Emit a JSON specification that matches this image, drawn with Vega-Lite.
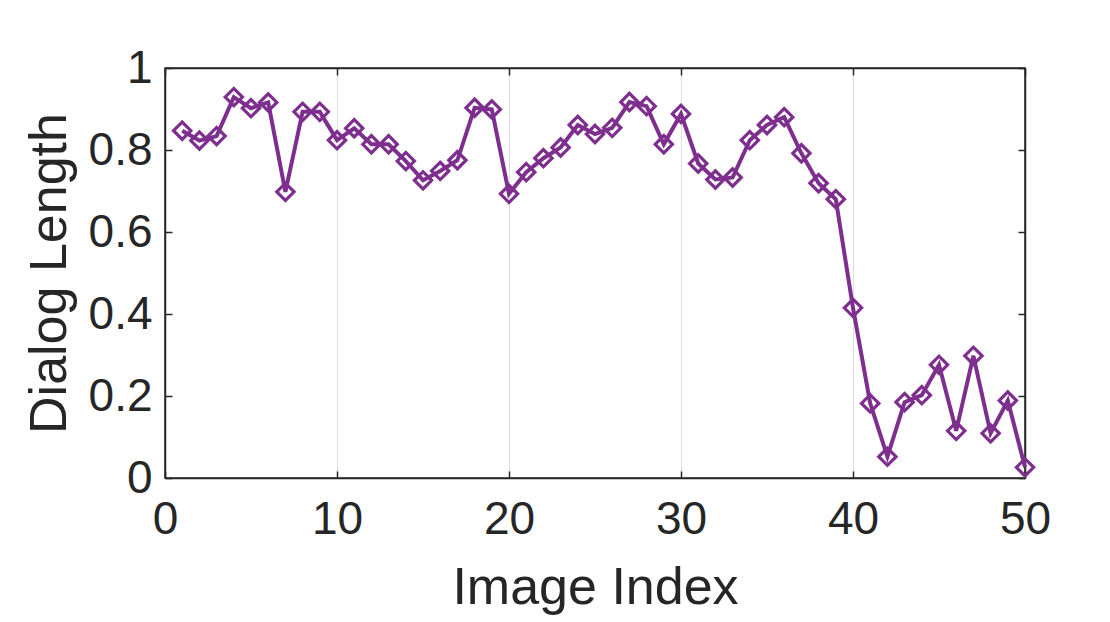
{
  "$schema": "https://vega.github.io/schema/vega-lite/v6.json",
  "width": 860,
  "height": 410,
  "autosize": {"type": "none"},
  "padding": {"left": 165, "top": 68, "right": 85, "bottom": 144},
  "background": "white",
  "config": {
    "font": "Liberation Sans",
    "view": {"stroke": "#262626", "strokeWidth": 1.5},
    "axis": {
      "domainColor": "#262626",
      "domainWidth": 1.5,
      "tickColor": "#262626",
      "tickWidth": 1.5,
      "labelColor": "#262626",
      "titleColor": "#262626",
      "labelFont": "Liberation Sans",
      "titleFont": "Liberation Sans",
      "labelFontSize": 46,
      "titleFontSize": 52,
      "titleFontWeight": "normal",
      "labelFlush": false
    }
  },
  "data": {
    "values": [
      {"index": 1, "length": 0.847},
      {"index": 2, "length": 0.823},
      {"index": 3, "length": 0.834},
      {"index": 4, "length": 0.929},
      {"index": 5, "length": 0.902},
      {"index": 6, "length": 0.916},
      {"index": 7, "length": 0.698},
      {"index": 8, "length": 0.893},
      {"index": 9, "length": 0.893},
      {"index": 10, "length": 0.824},
      {"index": 11, "length": 0.853},
      {"index": 12, "length": 0.814},
      {"index": 13, "length": 0.814},
      {"index": 14, "length": 0.773},
      {"index": 15, "length": 0.726},
      {"index": 16, "length": 0.749},
      {"index": 17, "length": 0.775},
      {"index": 18, "length": 0.903},
      {"index": 19, "length": 0.899},
      {"index": 20, "length": 0.693},
      {"index": 21, "length": 0.746},
      {"index": 22, "length": 0.780},
      {"index": 23, "length": 0.806},
      {"index": 24, "length": 0.861},
      {"index": 25, "length": 0.839},
      {"index": 26, "length": 0.854},
      {"index": 27, "length": 0.917},
      {"index": 28, "length": 0.907},
      {"index": 29, "length": 0.814},
      {"index": 30, "length": 0.888},
      {"index": 31, "length": 0.767},
      {"index": 32, "length": 0.728},
      {"index": 33, "length": 0.733},
      {"index": 34, "length": 0.824},
      {"index": 35, "length": 0.861},
      {"index": 36, "length": 0.880},
      {"index": 37, "length": 0.792},
      {"index": 38, "length": 0.719},
      {"index": 39, "length": 0.680},
      {"index": 40, "length": 0.415},
      {"index": 41, "length": 0.182},
      {"index": 42, "length": 0.052},
      {"index": 43, "length": 0.185},
      {"index": 44, "length": 0.202},
      {"index": 45, "length": 0.276},
      {"index": 46, "length": 0.115},
      {"index": 47, "length": 0.298},
      {"index": 48, "length": 0.109},
      {"index": 49, "length": 0.189},
      {"index": 50, "length": 0.026}
    ]
  },
  "resolve": {"axis": {"x": "independent", "y": "independent"}},
  "layer": [
    {
      "mark": {"type": "line", "color": "#7E2F8E", "strokeWidth": 4},
      "encoding": {
        "x": {
          "field": "index", "type": "quantitative",
          "scale": {"domain": [0, 50], "nice": false, "zero": false},
          "axis": {
            "orient": "bottom", "title": "Image Index",
            "values": [0, 10, 20, 30, 40, 50],
            "tickSize": -7, "labelPadding": 26, "titlePadding": 20,
            "grid": true, "gridColor": "#dedede", "gridWidth": 1
          }
        },
        "y": {
          "field": "length", "type": "quantitative",
          "scale": {"domain": [0, 1], "nice": false},
          "axis": {
            "orient": "left", "title": "Dialog Length",
            "values": [0, 0.2, 0.4, 0.6, 0.8, 1], "format": "~g",
            "tickSize": -7, "labelPadding": 20, "titlePadding": 12,
            "grid": false
          }
        }
      }
    },
    {
      "mark": {"type": "point", "shape": "diamond", "size": 300, "filled": false, "color": "#7E2F8E", "strokeWidth": 3.2, "opacity": 1},
      "encoding": {
        "x": {
          "field": "index", "type": "quantitative",
          "scale": {"domain": [0, 50], "nice": false, "zero": false},
          "axis": {"orient": "top", "title": null, "labels": false, "values": [0, 10, 20, 30, 40, 50], "tickSize": -7, "grid": false}
        },
        "y": {
          "field": "length", "type": "quantitative",
          "scale": {"domain": [0, 1], "nice": false},
          "axis": {"orient": "right", "title": null, "labels": false, "values": [0, 0.2, 0.4, 0.6, 0.8, 1], "tickSize": -7, "grid": false}
        }
      }
    }
  ]
}
